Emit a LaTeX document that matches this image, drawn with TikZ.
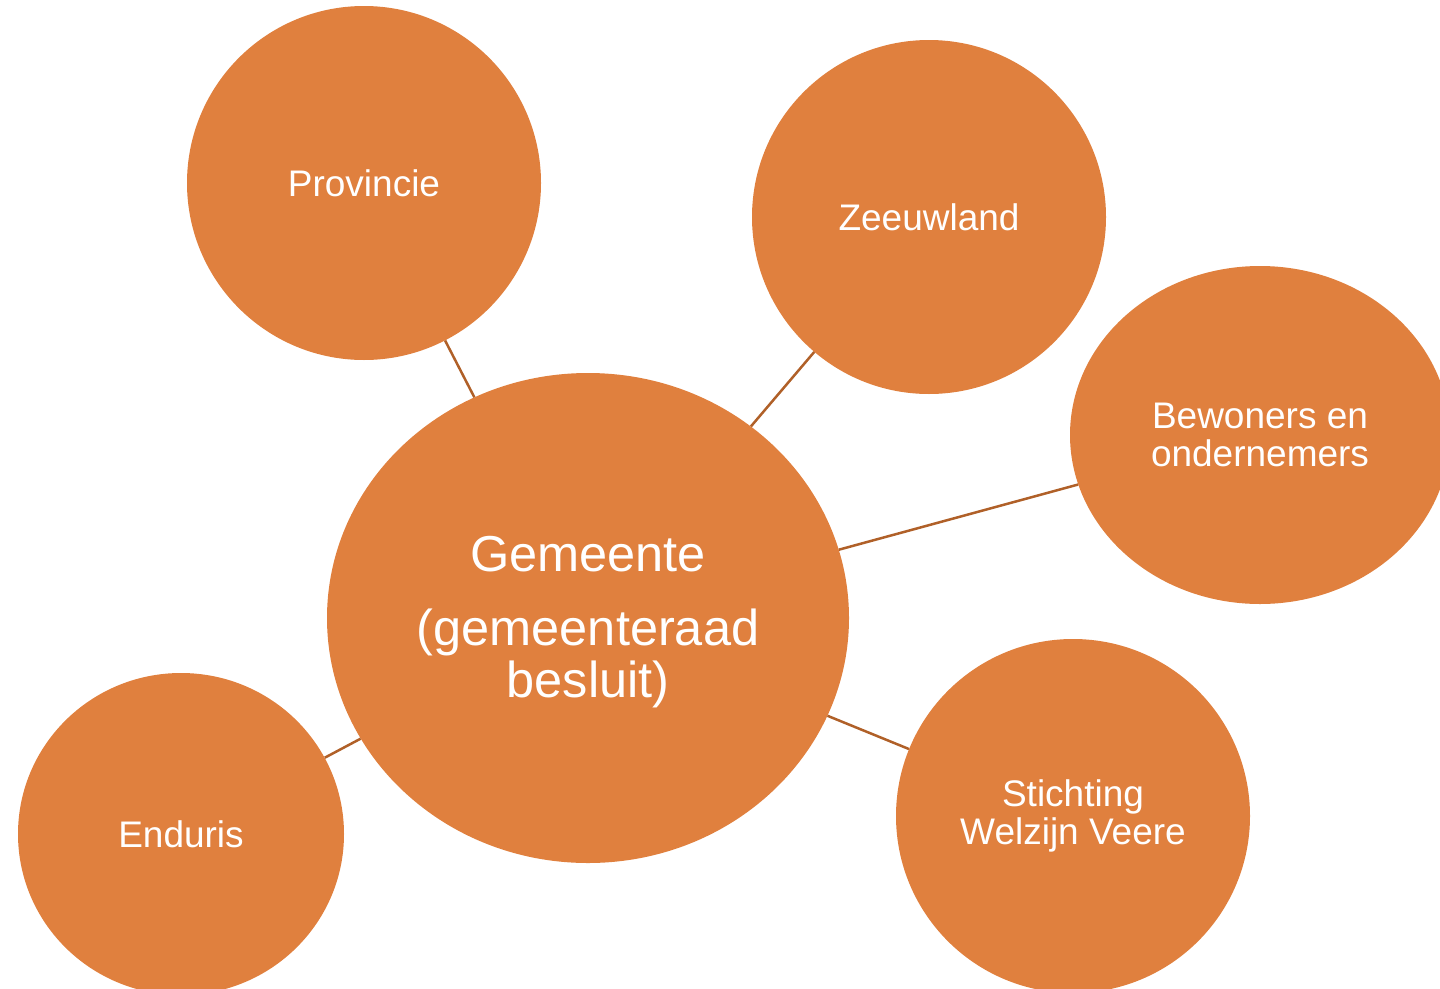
\documentclass[tikz,border=0pt]{standalone}
\usepackage{fontspec}
\setmainfont{Liberation Sans}
\usetikzlibrary{shapes.geometric}
\definecolor{bubble}{RGB}{224,128,62}
\definecolor{link}{RGB}{176,96,40}
\tikzset{
  bub/.style={ellipse, fill=bubble, draw=none, inner sep=0pt, text=white, align=center,
    font=\fontsize{37}{38.5}\selectfont},
  lnk/.style={draw=link, line width=2.5pt}
}
\begin{document}
\begin{tikzpicture}[x=1pt,y=-1pt]
\useasboundingbox (0,0) rectangle (1440,988);
\clip (0,0) rectangle (1440,988);
\node[bub, minimum width=522pt, minimum height=490pt] (gem) at (588,618) {};
\node[text=white, align=center, inner sep=0pt, font=\fontsize{50.5}{51.5}\selectfont] (gemtext) at (588,622) {Gemeente\\[23pt](gemeenteraad\\besluit)};
\node[bub, minimum width=354pt, minimum height=354pt] (prov) at (364,183) {Provincie};
\node[bub, minimum width=354pt, minimum height=354pt] (zeeuw) at (929,217) {Zeeuwland};
\node[bub, minimum width=380pt, minimum height=338pt] (bew) at (1260,435) {Bewoners en\\ondernemers};
\node[bub, minimum width=354pt, minimum height=354pt] (stich) at (1073,816) {Stichting\\Welzijn Veere};
\node[bub, minimum width=326pt, minimum height=322pt] (end) at (181,834) {Enduris};
\draw[lnk] (gem) -- (prov);
\draw[lnk] (gem) -- (zeeuw);
\draw[lnk] (gem) -- (bew);
\draw[lnk] (gem) -- (stich);
\draw[lnk] (gem) -- (end);
\end{tikzpicture}
\end{document}
